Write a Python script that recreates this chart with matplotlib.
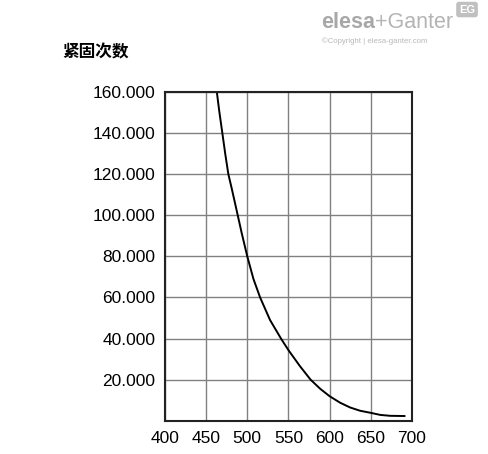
import matplotlib.pyplot as plt
from matplotlib.ticker import FuncFormatter

# values
temp = [463, 466, 469.7, 473.4, 477, 481, 488.4, 493.3, 500, 507.5, 515.6,
        527.7, 541, 550, 564, 577, 588.6, 600, 612.9, 625, 637.2, 650,
        661.5, 673.7, 691]
cycles = [160000, 150500, 140000, 129400, 120000, 113200, 100000, 91200,
          80000, 69000, 60000, 49000, 40000, 34400, 26600, 20000, 15600,
          12000, 8800, 6500, 4900, 3900, 2900, 2450, 2350]
x_ticks = [400, 450, 500, 550, 600, 650, 700]
y_ticks = [20000, 40000, 60000, 80000, 100000, 120000, 140000, 160000]
title = "紧固次数"

plt.rcParams['font.family'] = ['Liberation Sans', 'DejaVu Sans']

fig = plt.figure(figsize=(4.88, 4.54), dpi=100)
ax = fig.add_axes([0.338, 0.073, 0.506, 0.725])

ax.plot(temp, cycles, color='black', lw=1.4, solid_joinstyle='round')

ax.set_xlim(400, 700)
ax.set_ylim(0, 160000)
ax.set_xticks(x_ticks)
ax.set_yticks(y_ticks)
ax.yaxis.set_major_formatter(FuncFormatter(lambda v, p: f"{int(v):,}".replace(",", ".")))
ax.tick_params(length=0, labelsize=12.5, colors='black', pad=7)
ax.grid(True, color='#808080', lw=1)
for s in ax.spines.values():
    s.set_linewidth(1.5)
    s.set_color('#222222')

fig.text(0.127, 0.885, title, family=['Noto Sans CJK SC', 'DejaVu Sans'],
         fontsize=12, fontweight='bold', va='center', ha='left')

# watermark / logo
fig.text(0.658, 0.951, "elesa", fontsize=15.5, fontweight='bold',
         color='#a8a8a8', va='center')
fig.text(0.769, 0.951, "+Ganter", fontsize=15.5, color='#b4b4b4', va='center')
fig.text(0.66, 0.91, "©Copyright | elesa-ganter.com", fontsize=5.6,
         color='#b8b8b8', va='center')
fig.text(0.957, 0.979, "EG", fontsize=8, fontweight='bold', color='white',
         va='center', ha='center',
         bbox=dict(boxstyle='round,pad=0.25', fc='#c0c0c0', ec='none'))

fig.savefig('out.png', dpi=100)
